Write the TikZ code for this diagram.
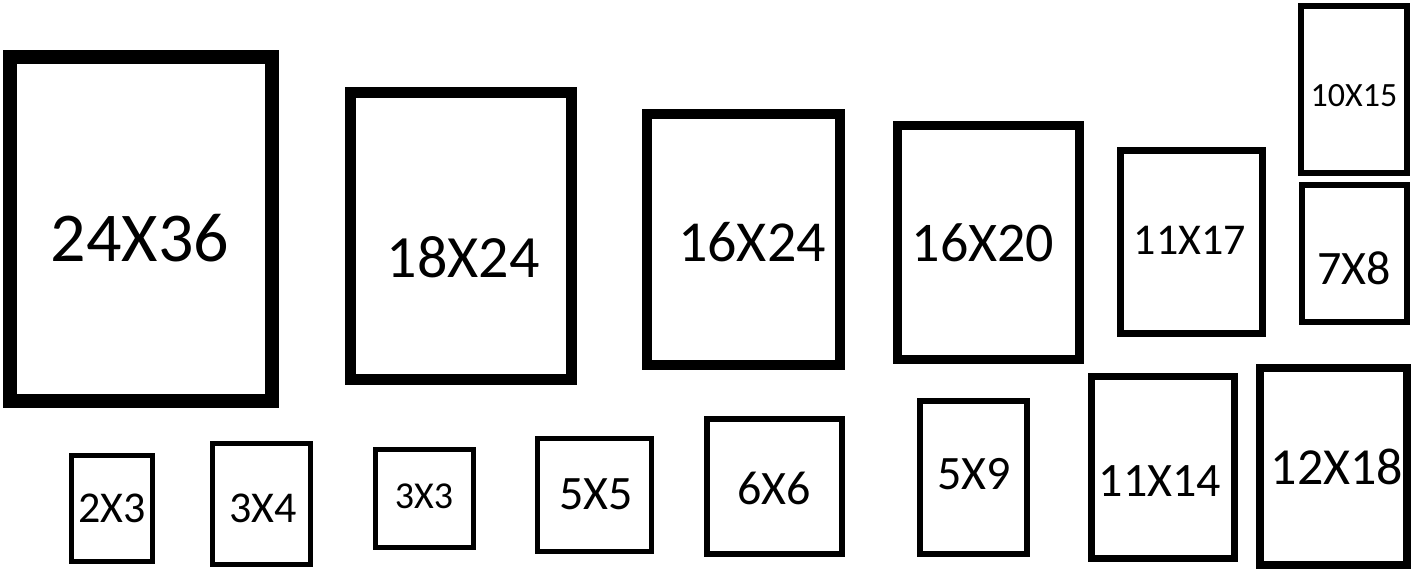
\documentclass[tikz,border=0pt]{standalone}
\usepackage{fontspec}
\setmainfont{Carlito}
\begin{document}
\begin{tikzpicture}[x=1pt,y=-1pt]
\useasboundingbox (0,0) rectangle (1415,573);
\newcommand\frm[8]{% name x1 y1 x2 y2 thick label size
 \draw[line width=#6pt] ({#2+#6/2},{#3+#6/2}) rectangle ({#4-#6/2},{#5-#6/2});
 \node[inner sep=0] (#1) at ({(#2+#4)/2},{(#3+#5)/2}) {};}
\tikzset{lbl/.style={inner sep=0,font=\fontsize{#1}{#1}\selectfont}}
\frm{a}{3}{50}{279}{408}{14}{}{}
\frm{b}{345}{87}{577}{385}{11}{}{}
\frm{c}{642}{109}{845}{370}{10}{}{}
\frm{d}{893}{121}{1084}{364}{9}{}{}
\frm{e}{1117}{147}{1266}{337}{7}{}{}
\frm{f}{1298}{3}{1410}{176}{6}{}{}
\frm{g}{1299}{182}{1410}{325}{6}{}{}
\frm{h}{69}{453}{155}{564}{5}{}{}
\frm{i}{210}{441}{313}{567}{5}{}{}
\frm{j}{373}{447}{476}{550}{5}{}{}
\frm{k}{535}{436}{654}{554}{5}{}{}
\frm{l}{704}{416}{845}{557}{6}{}{}
\frm{m}{917}{398}{1030}{557}{6}{}{}
\frm{n}{1088}{373}{1238}{562}{7}{}{}
\frm{o}{1256}{364}{1411}{569}{8}{}{}
\node[lbl=70] (ta) at (140,238) {24X36};
\node[lbl=60] (tb) at (463,257) {18X24};
\node[lbl=58] (tc) at (752,242) {16X24};
\node[lbl=56] (td) at (983,243) {16X20};
\node[lbl=44] (te) at (1190,240) {11X17};
\node[lbl=34] (tf) at (1354,96) {10X15};
\node[lbl=48] (tg) at (1354,268) {7X8};
\node[lbl=44] (th) at (112,508) {2X3};
\node[lbl=44] (ti) at (263,508) {3X4};
\node[lbl=38] (tj) at (424,496) {3X3};
\node[lbl=48] (tk) at (596,494) {5X5};
\node[lbl=48] (tl) at (774,488) {6X6};
\node[lbl=48] (tm) at (974,474) {5X9};
\node[lbl=48] (tn) at (1160,481) {11X14};
\node[lbl=52] (to) at (1337,467) {12X18};
\end{tikzpicture}
\end{document}
